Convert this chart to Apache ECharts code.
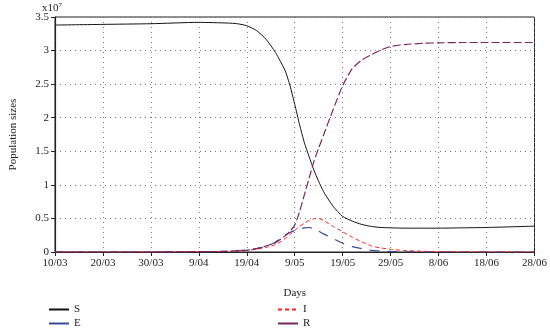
<!DOCTYPE html>
<html>
<head>
<meta charset="utf-8">
<script src="https://cdn.jsdelivr.net/npm/echarts@6/dist/echarts.min.js"></script>
<style>
  html, body { margin: 0; padding: 0; background: #fff; }
  #chart { width: 550px; height: 328px; }
</style>
</head>
<body>
<div id="chart"></div>
<script>
// tick labels on the day axis (index 0..100, one label every 10)
var dayLabels = ['10/03', '20/03', '30/03', '9/04', '19/04', '9/05', '19/05', '29/05', '8/06', '18/06', '28/06'];

// sample positions on the day axis
var days = [0, 10, 20, 30, 36, 38, 40, 42, 44, 46, 48, 49, 50, 51, 52, 53, 54, 55, 56, 58, 60, 62, 64, 66, 68, 70, 73, 77, 80, 85, 90, 100];

// population sizes, x10^7
var S = [3.38, 3.39, 3.40, 3.42, 3.41, 3.40, 3.37, 3.30, 3.17, 2.97, 2.70, 2.48, 2.20, 1.90, 1.63, 1.42, 1.22, 1.05, 0.90, 0.68, 0.53, 0.46, 0.41, 0.38, 0.365, 0.36, 0.355, 0.355, 0.355, 0.36, 0.365, 0.385];
var E = [0, 0, 0, 0.003, 0.01, 0.02, 0.03, 0.05, 0.08, 0.15, 0.25, 0.29, 0.32, 0.345, 0.36, 0.365, 0.345, 0.31, 0.27, 0.20, 0.13, 0.08, 0.05, 0.025, 0.015, 0.008, 0.004, 0.002, 0.001, 0, 0, 0];
var I = [0, 0, 0, 0.003, 0.01, 0.017, 0.025, 0.04, 0.07, 0.11, 0.20, 0.26, 0.32, 0.38, 0.43, 0.47, 0.495, 0.50, 0.47, 0.38, 0.30, 0.22, 0.15, 0.09, 0.06, 0.04, 0.022, 0.01, 0.006, 0.002, 0, 0];
var R = [0, 0, 0, 0.005, 0.01, 0.017, 0.025, 0.05, 0.09, 0.14, 0.24, 0.31, 0.40, 0.60, 0.85, 1.10, 1.35, 1.55, 1.74, 2.12, 2.48, 2.73, 2.86, 2.94, 3.01, 3.06, 3.09, 3.11, 3.115, 3.12, 3.12, 3.12];

function pairs(vals) {
  return days.map(function (d, i) { return [d, vals[i]]; });
}

var font = '"Liberation Serif", "DejaVu Serif", serif';
var ink = '#222';

// one legend box per entry so each sits where the reference has it
function legendAt(name, left, top, dashed) {
  var item = { name: name };
  if (!dashed) item.lineStyle = { type: 'solid' };
  return {
    data: [item], left: left, top: top,
    itemWidth: 20, itemHeight: 8, itemGap: 5,
    itemStyle: { opacity: 0 },
    textStyle: { fontFamily: font, fontSize: 11, color: ink }
  };
}

var chart = echarts.init(document.getElementById('chart'));

chart.setOption({
  animation: false,
  textStyle: { fontFamily: font },
  grid: {
    left: 49, right: 12, top: 17, bottom: 76,
    show: true, borderColor: ink, borderWidth: 1
  },
  graphic: [{
    type: 'text',
    left: 42, top: 2,
    style: {
      text: '{a|x10}{b|7}',
      rich: {
        a: { fontFamily: font, fontSize: 11, fill: ink, verticalAlign: 'bottom' },
        b: { fontFamily: font, fontSize: 7, fill: ink, verticalAlign: 'top', padding: [0, 0, 5, 0] }
      }
    }
  }],
  legend: [
    legendAt('S', 43, 299, false),
    legendAt('E', 43, 313, false),
    legendAt('I', 272, 299, true),
    legendAt('R', 272, 313, false)
  ],
  xAxis: {
    type: 'value', min: 0, max: 100, interval: 10,
    name: 'Days', nameLocation: 'middle', nameGap: 36,
    nameTextStyle: { fontFamily: font, fontSize: 11, color: ink },
    axisLine: { lineStyle: { color: ink, width: 1.2 } },
    axisTick: { length: 4, lineStyle: { color: ink } },
    axisLabel: {
      fontFamily: font, fontSize: 11, color: ink, margin: 6,
      formatter: function (v) { return dayLabels[Math.round(v / 10)]; }
    },
    splitLine: { show: true, lineStyle: { color: '#777', type: [1, 4], width: 1 } }
  },
  yAxis: {
    type: 'value', min: 0, max: 3.5, interval: 0.5,
    name: 'Population sizes', nameLocation: 'middle', nameGap: 36,
    nameTextStyle: { fontFamily: font, fontSize: 11, color: ink },
    axisLine: { show: true, lineStyle: { color: ink, width: 1.2 } },
    axisTick: { show: true, length: 4, lineStyle: { color: ink } },
    axisLabel: { fontFamily: font, fontSize: 11, color: ink, margin: 6 },
    splitLine: { show: true, lineStyle: { color: '#777', type: [1, 4], width: 1 } }
  },
  series: [
    {
      name: 'S', type: 'line', data: pairs(S), smooth: 0.2, symbol: 'none',
      lineStyle: { color: '#111', width: 1 }, itemStyle: { color: '#111' }
    },
    {
      name: 'E', type: 'line', data: pairs(E), smooth: 0.2, symbol: 'none',
      lineStyle: { color: '#3a4a9a', width: 1.2, type: [10, 8] }, itemStyle: { color: '#3a4a9a' }
    },
    {
      name: 'I', type: 'line', data: pairs(I), smooth: 0.2, symbol: 'none',
      lineStyle: { color: '#ff2020', width: 1, type: [4, 3] }, itemStyle: { color: '#ff2020' }
    },
    {
      name: 'R', type: 'line', data: pairs(R), smooth: 0.2, symbol: 'none',
      lineStyle: { color: '#7a2462', width: 1.2, type: [8, 3] }, itemStyle: { color: '#7a2462' }
    }
  ]
});
</script>
</body>
</html>
